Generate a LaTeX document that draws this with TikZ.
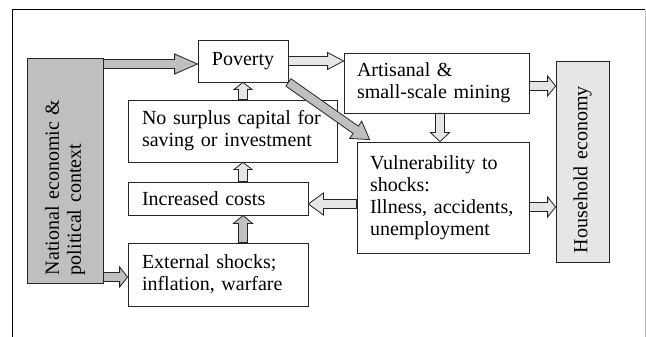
\documentclass[tikz,border=0pt]{standalone}
\usepackage{fontspec}
\setmainfont{Liberation Serif}
\usetikzlibrary{calc,positioning}

\definecolor{ctxgray}{RGB}{191,191,191}
\definecolor{lightfill}{RGB}{230,230,230}

\tikzset{
  box/.style={draw=black!85, line width=0.8pt, inner xsep=14pt, inner ysep=0pt,
    align=left, font=\fontsize{20}{22}\selectfont},
  sidebox/.style={box, rotate=90},
}

% fill, head length, head half width, from, to
\newcommand{\fatarrow}[5]{%
  \coordinate (fa-s) at #4;
  \coordinate (fa-e) at #5;
  \coordinate (fa-h) at ($(fa-e)!#2!(fa-s)$);
  \draw[draw=black!85, line width=0.8pt, fill=#1, line join=miter]
    ($(fa-s)!4.5pt!90:(fa-e)$) -- ($(fa-h)!4.5pt!90:(fa-e)$) -- ($(fa-h)!#3!90:(fa-e)$)
    -- (fa-e) -- ($(fa-h)!#3!-90:(fa-e)$) -- ($(fa-h)!4.5pt!-90:(fa-e)$)
    -- ($(fa-s)!4.5pt!-90:(fa-e)$) -- cycle;
}

\begin{document}
\begin{tikzpicture}[x=1pt,y=-1pt]
  \useasboundingbox (0,0) rectangle (646,337);
  % frame
  \draw[line width=1pt] (12,337) -- (12,10) -- (645,10);
  \draw[black!25, line width=0.8pt] (645,10) -- (645,337);

  % side boxes
  \node[sidebox, fill=ctxgray, inner xsep=8pt, text width=209pt,
    minimum width=225pt, minimum height=76pt] (nat) at (65,170.5)
    {National economic \&\\political context};
  \node[sidebox, fill=lightfill, inner xsep=9pt, text width=183pt,
    minimum width=201pt, minimum height=53pt] (hh) at (582.5,161.5)
    {Household economy};

  % boxes
  \node[box, inner xsep=0pt, minimum width=90pt, minimum height=42pt] (pov) at (243,61) {Poverty};
  \node[box, text width=181pt, minimum height=62pt] (nosur) at (232.5,131)
    {No surplus capital for\\saving or investment};
  \node[box, text width=152pt, minimum height=33pt] (inc) at (218,198.5) {Increased costs};
  \node[box, text width=152pt, minimum height=63pt] (ext) at (218,274.5)
    {External shocks;\\inflation, warfare};
  \node[box, inner xsep=13pt, text width=159pt, minimum height=60pt] (art) at (436.5,83)
    {Artisanal \&\\small-scale mining};
  \node[box, inner xsep=13pt, text width=146pt, minimum height=111pt] (vul) at (443,197.5)
    {Vulnerability to\\shocks:\\Illness, accidents,\\unemployment};

  % arrows
  \coordinate (p1) at ([yshift=-3pt]pov.west);
  \fatarrow{ctxgray}{23pt}{10pt}{(nat.south |- p1)}{(p1)}
  \coordinate (e1) at ([yshift=-2.5pt]ext.west);
  \fatarrow{ctxgray}{8pt}{10pt}{(nat.south |- e1)}{(e1)}
  \fatarrow{lightfill}{16pt}{8.5pt}{(pov.east)}{(art.west |- pov.east)}
  \fatarrow{lightfill}{7pt}{9pt}{(nosur.north -| pov.south)}{(pov.south)}
  \fatarrow{lightfill}{7pt}{9pt}{(inc.north -| pov.south)}{(nosur.south -| pov.south)}
  \fatarrow{ctxgray}{8pt}{9.5pt}{(ext.north -| pov.south)}{(inc.south -| pov.south)}
  \coordinate (v1) at ([shift={(13pt,2pt)}]vul.north west);
  \fatarrow{ctxgray}{17pt}{10.5pt}{(pov.south east)}{(v1)}
  \coordinate (a1) at ([xshift=3.5pt]art.south);
  \fatarrow{lightfill}{9pt}{9.5pt}{(a1)}{(a1 |- vul.north)}
  \coordinate (a2) at ([yshift=-3pt]art.east);
  \fatarrow{lightfill}{8pt}{10pt}{(a2)}{(hh.north |- a2)}
  \coordinate (v2) at ([yshift=-9.5pt]vul.east);
  \fatarrow{lightfill}{8pt}{10pt}{(v2)}{(hh.north |- v2)}
  \coordinate (v3) at ([yshift=-6.5pt]vul.west);
  \fatarrow{lightfill}{15pt}{11pt}{(v3)}{(inc.east |- v3)}
\end{tikzpicture}
\end{document}
